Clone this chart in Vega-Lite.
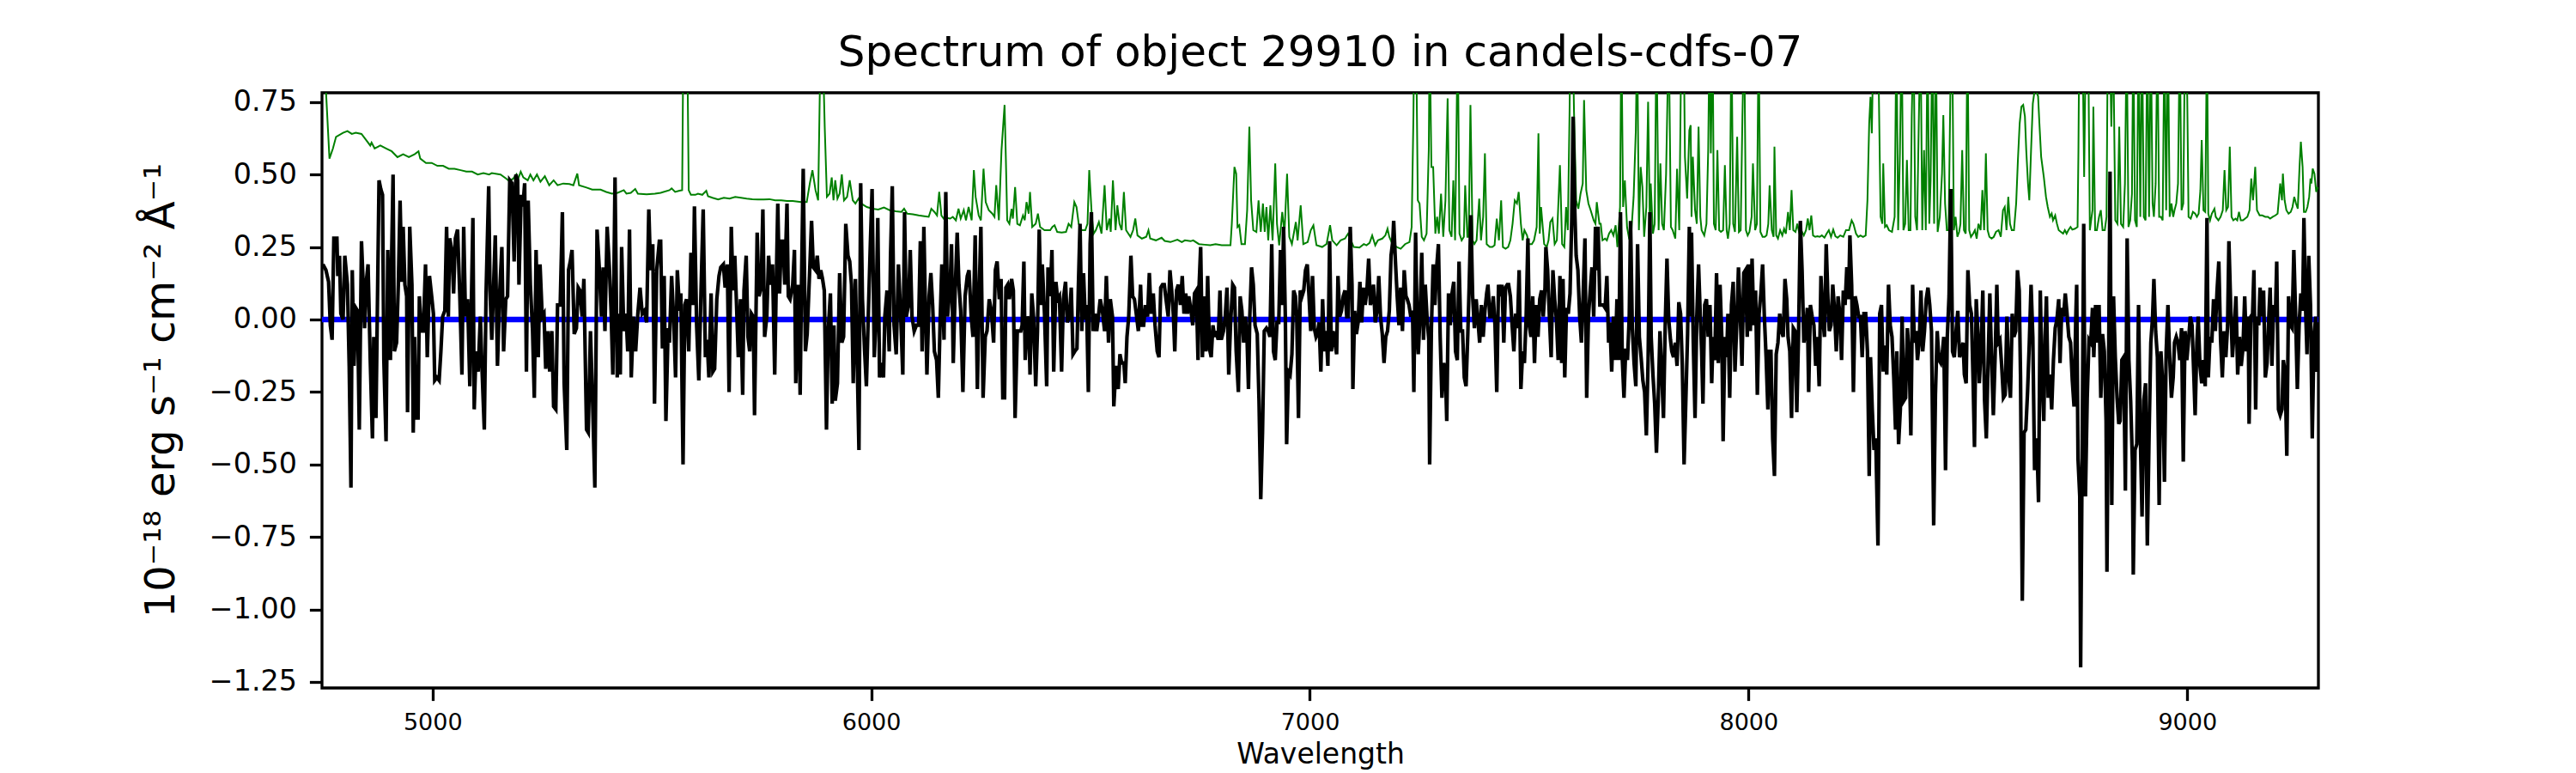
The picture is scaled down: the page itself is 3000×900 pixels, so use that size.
{
  "$schema": "https://vega.github.io/schema/vega-lite/v6.json",
  "autosize": "none",
  "width": 2325,
  "height": 693,
  "padding": {"left": 375, "top": 108, "right": 300, "bottom": 99},
  "background": "white",
  "title": {
    "text": "Spectrum of object 29910 in candels-cdfs-07",
    "font": "DejaVu Sans",
    "fontSize": 50,
    "fontWeight": "normal",
    "color": "black",
    "anchor": "middle",
    "baseline": "alphabetic",
    "offset": 25,
    "dy": 50
  },
  "datasets": {
    "zero": [{"w": 4748, "f": 0}, {"w": 9299, "f": 0}],
    "spec": [
      {"w":4750,"f":0.19},{"w":4757,"f":0.17},{"w":4763,"f":0.13},{"w":4767,"f":-0.02},{"w":4771,"f":-0.07},{"w":4775,"f":0.28},{"w":4782,"f":0.28},{"w":4784,"f":0.15},{"w":4788,"f":0.22},{"w":4791,"f":0.02},
      {"w":4796,"f":0.00},{"w":4800,"f":0.22},{"w":4806,"f":0.12},{"w":4810,"f":-0.16},{"w":4814,"f":-0.58},{"w":4817,"f":0.17},{"w":4821,"f":-0.16},{"w":4825,"f":0.04},{"w":4829,"f":0.03},{"w":4833,"f":-0.38},
      {"w":4838,"f":0.27},{"w":4842,"f":0.12},{"w":4845,"f":-0.03},{"w":4849,"f":0.13},{"w":4853,"f":0.19},{"w":4858,"f":-0.14},{"w":4863,"f":-0.41},{"w":4866,"f":-0.06},{"w":4871,"f":-0.34},{"w":4874,"f":0.01},
      {"w":4878,"f":0.48},{"w":4882,"f":0.45},{"w":4886,"f":0.43},{"w":4889,"f":-0.14},{"w":4894,"f":-0.42},{"w":4898,"f":0.24},{"w":4904,"f":-0.14},{"w":4907,"f":0.24},{"w":4910,"f":0.50},{"w":4913,"f":-0.11},
      {"w":4918,"f":-0.08},{"w":4922,"f":0.12},{"w":4926,"f":0.41},{"w":4930,"f":0.13},{"w":4933,"f":0.32},{"w":4937,"f":0.12},{"w":4941,"f":0.08},{"w":4943,"f":-0.32},{"w":4948,"f":0.32},{"w":4953,"f":0.12},
      {"w":4956,"f":-0.39},{"w":4959,"f":-0.06},{"w":4962,"f":-0.34},{"w":4967,"f":-0.34},{"w":4970,"f":0.08},{"w":4974,"f":-0.04},{"w":4979,"f":-0.04},{"w":4984,"f":0.19},{"w":4988,"f":-0.13},{"w":4993,"f":0.15},
      {"w":4998,"f":0.08},{"w":5002,"f":0.02},{"w":5005,"f":-0.21},{"w":5010,"f":-0.20},{"w":5015,"f":-0.21},{"w":5019,"f":-0.11},{"w":5023,"f":0.01},{"w":5028,"f":0.03},{"w":5032,"f":0.32},{"w":5036,"f":0.01},
      {"w":5039,"f":0.28},{"w":5044,"f":0.24},{"w":5048,"f":0.09},{"w":5052,"f":0.28},{"w":5057,"f":0.31},{"w":5062,"f":0.09},{"w":5067,"f":-0.19},{"w":5071,"f":0.32},{"w":5075,"f":0.01},{"w":5080,"f":0.07},
      {"w":5085,"f":-0.23},{"w":5088,"f":0.01},{"w":5092,"f":0.35},{"w":5095,"f":-0.31},{"w":5099,"f":-0.11},{"w":5104,"f":-0.18},{"w":5109,"f":0.01},{"w":5113,"f":-0.18},{"w":5118,"f":-0.38},{"w":5122,"f":0.09},
      {"w":5128,"f":0.46},{"w":5131,"f":0.10},{"w":5135,"f":-0.07},{"w":5139,"f":0.11},{"w":5143,"f":0.29},{"w":5148,"f":-0.16},{"w":5153,"f":0.09},{"w":5158,"f":0.25},{"w":5162,"f":-0.11},{"w":5167,"f":0.07},
      {"w":5171,"f":0.08},{"w":5176,"f":0.48},{"w":5181,"f":0.47},{"w":5186,"f":0.20},{"w":5190,"f":0.50},{"w":5194,"f":0.48},{"w":5197,"f":0.12},{"w":5202,"f":0.43},{"w":5206,"f":0.39},{"w":5210,"f":0.47},
      {"w":5214,"f":-0.18},{"w":5218,"f":0.41},{"w":5223,"f":0.12},{"w":5228,"f":-0.04},{"w":5232,"f":-0.27},{"w":5236,"f":0.24},{"w":5241,"f":-0.13},{"w":5245,"f":0.19},{"w":5250,"f":0.01},{"w":5254,"f":0.02},
      {"w":5258,"f":-0.17},{"w":5263,"f":-0.04},{"w":5267,"f":-0.18},{"w":5272,"f":-0.04},{"w":5276,"f":-0.30},{"w":5281,"f":-0.31},{"w":5285,"f":0.05},{"w":5291,"f":0.05},{"w":5296,"f":0.37},{"w":5300,"f":-0.22},
      {"w":5306,"f":-0.45},{"w":5310,"f":0.17},{"w":5314,"f":0.20},{"w":5318,"f":0.24},{"w":5323,"f":-0.05},{"w":5328,"f":-0.03},{"w":5332,"f":0.11},{"w":5336,"f":0.10},{"w":5341,"f":0.01},{"w":5345,"f":0.14},
      {"w":5351,"f":-0.38},{"w":5355,"f":-0.39},{"w":5360,"f":-0.04},{"w":5365,"f":-0.29},{"w":5370,"f":-0.58},{"w":5375,"f":0.31},{"w":5380,"f":0.18},{"w":5385,"f":0.01},{"w":5389,"f":0.18},{"w":5393,"f":-0.04},
      {"w":5398,"f":0.32},{"w":5403,"f":0.18},{"w":5407,"f":0.03},{"w":5411,"f":-0.19},{"w":5416,"f":0.49},{"w":5421,"f":-0.20},{"w":5424,"f":0.02},{"w":5428,"f":-0.19},{"w":5431,"f":0.25},{"w":5436,"f":-0.04},
      {"w":5441,"f":0.02},{"w":5445,"f":-0.11},{"w":5449,"f":0.31},{"w":5453,"f":-0.20},{"w":5458,"f":0.01},{"w":5463,"f":-0.11},{"w":5468,"f":0.02},{"w":5473,"f":0.11},{"w":5478,"f":0.02},{"w":5483,"f":0.03},
      {"w":5488,"f":-0.01},{"w":5493,"f":0.38},{"w":5497,"f":0.17},{"w":5502,"f":0.26},{"w":5506,"f":-0.29},{"w":5511,"f":0.17},{"w":5517,"f":0.27},
      {"w":5520,"f":0.27},{"w":5524,"f":-0.10},{"w":5528,"f":0.15},{"w":5532,"f":-0.35},{"w":5537,"f":-0.03},{"w":5540,"f":-0.08},{"w":5545,"f":0.15},{"w":5550,"f":-0.01},{"w":5554,"f":-0.20},{"w":5558,"f":0.17},
      {"w":5563,"f":0.03},{"w":5566,"f":0.09},{"w":5571,"f":-0.50},{"w":5575,"f":0.05},{"w":5579,"f":0.07},{"w":5584,"f":-0.11},{"w":5589,"f":0.23},{"w":5594,"f":0.05},{"w":5597,"f":0.39},{"w":5602,"f":-0.02},
      {"w":5607,"f":-0.21},{"w":5612,"f":0.10},{"w":5617,"f":0.38},{"w":5622,"f":-0.13},{"w":5626,"f":-0.07},{"w":5630,"f":-0.20},{"w":5635,"f":0.09},{"w":5639,"f":-0.18},{"w":5643,"f":-0.17},{"w":5648,"f":0.07},
      {"w":5653,"f":0.15},{"w":5657,"f":0.18},{"w":5663,"f":0.19},{"w":5667,"f":0.11},{"w":5672,"f":0.19},{"w":5676,"f":-0.25},{"w":5681,"f":0.32},{"w":5685,"f":0.10},{"w":5689,"f":0.22},{"w":5693,"f":0.05},
      {"w":5697,"f":-0.13},{"w":5702,"f":0.07},{"w":5707,"f":-0.26},{"w":5710,"f":0.10},{"w":5715,"f":0.22},{"w":5719,"f":-0.06},{"w":5723,"f":-0.11},{"w":5727,"f":0.02},{"w":5731,"f":0.01},{"w":5734,"f":-0.33},
      {"w":5740,"f":0.30},{"w":5744,"f":0.08},{"w":5749,"f":0.11},{"w":5753,"f":0.38},{"w":5757,"f":-0.06},{"w":5762,"f":0.01},{"w":5766,"f":0.22},{"w":5770,"f":0.12},{"w":5775,"f":0.19},{"w":5780,"f":-0.19},
      {"w":5783,"f":0.08},{"w":5787,"f":0.40},{"w":5791,"f":0.09},{"w":5795,"f":0.27},{"w":5799,"f":0.27},{"w":5803,"f":0.12},{"w":5808,"f":0.40},{"w":5811,"f":0.08},{"w":5815,"f":0.07},{"w":5821,"f":0.12},
      {"w":5825,"f":0.24},{"w":5828,"f":-0.22},{"w":5834,"f":0.12},{"w":5838,"f":-0.26},{"w":5841,"f":0.12},{"w":5845,"f":0.52},{"w":5850,"f":-0.11},{"w":5854,"f":-0.05},{"w":5860,"f":0.18},{"w":5864,"f":0.34},
      {"w":5868,"f":0.18},{"w":5873,"f":0.17},{"w":5877,"f":0.22},{"w":5881,"f":0.14},{"w":5885,"f":0.17},{"w":5889,"f":0.14},{"w":5893,"f":0.10},{"w":5898,"f":-0.38},{"w":5902,"f":-0.04},{"w":5907,"f":0.09},
      {"w":5911,"f":-0.29},{"w":5915,"f":-0.02},{"w":5918,"f":-0.28},{"w":5923,"f":-0.22},{"w":5928,"f":0.16},{"w":5933,"f":-0.08},{"w":5937,"f":-0.06},{"w":5942,"f":0.33},{"w":5947,"f":0.22},{"w":5951,"f":0.20},
      {"w":5955,"f":0.12},{"w":5959,"f":-0.22},{"w":5964,"f":0.14},{"w":5968,"f":-0.14},{"w":5972,"f":-0.45},{"w":5976,"f":0.47},{"w":5980,"f":0.07},{"w":5985,"f":-0.11},{"w":5989,"f":-0.23},{"w":5994,"f":0.05},
      {"w":5998,"f":0.26},{"w":6002,"f":0.45},{"w":6007,"f":-0.13},{"w":6011,"f":0.01},{"w":6015,"f":0.35},{"w":6019,"f":-0.20},{"w":6023,"f":-0.15},{"w":6028,"f":-0.20},{"w":6031,"f":0.01},{"w":6036,"f":0.10},
      {"w":6041,"f":-0.11},{"w":6044,"f":0.22},{"w":6048,"f":0.46},{"w":6052,"f":-0.02},{"w":6057,"f":-0.12},{"w":6062,"f":0.19},{"w":6067,"f":0.02},{"w":6072,"f":-0.19},{"w":6076,"f":0.37},{"w":6080,"f":0.01},
      {"w":6085,"f":0.05},{"w":6089,"f":0.24},{"w":6093,"f":0.01},{"w":6098,"f":-0.04},{"w":6103,"f":-0.02},{"w":6108,"f":-0.02},{"w":6112,"f":0.27},{"w":6116,"f":-0.11},{"w":6120,"f":0.32},{"w":6123,"f":0.08},
      {"w":6127,"f":-0.19},{"w":6132,"f":0.08},{"w":6136,"f":0.16},{"w":6140,"f":0.05},{"w":6144,"f":-0.11},{"w":6149,"f":-0.14},{"w":6153,"f":-0.27},{"w":6157,"f":-0.01},{"w":6161,"f":0.19},{"w":6166,"f":-0.07},
      {"w":6170,"f":0.44},{"w":6174,"f":0.01},{"w":6180,"f":0.12},{"w":6183,"f":0.26},{"w":6187,"f":-0.15},{"w":6191,"f":0.08},{"w":6196,"f":0.30},{"w":6200,"f":0.12},{"w":6204,"f":0.03},{"w":6209,"f":-0.25},
      {"w":6214,"f":0.08},{"w":6219,"f":0.15},{"w":6223,"f":0.17},{"w":6228,"f":0.01},{"w":6232,"f":-0.06},{"w":6237,"f":0.29},{"w":6242,"f":-0.24},{"w":6246,"f":0.08},{"w":6250,"f":0.32},{"w":6255,"f":-0.27},
      {"w":6260,"f":-0.06},{"w":6264,"f":-0.04},{"w":6269,"f":0.07},{"w":6274,"f":0.03},{"w":6279,"f":-0.08},{"w":6283,"f":0.17},{"w":6287,"f":0.20},{"w":6292,"f":0.07},{"w":6296,"f":0.14},{"w":6300,"f":-0.27},
      {"w":6304,"f":-0.27},{"w":6307,"f":0.11},{"w":6311,"f":0.12},{"w":6315,"f":0.07},{"w":6320,"f":0.14},{"w":6324,"f":0.10},{"w":6328,"f":-0.34},{"w":6333,"f":-0.04},{"w":6337,"f":-0.04},{"w":6341,"f":-0.04},
      {"w":6344,"f":-0.02},{"w":6348,"f":0.20},{"w":6351,"f":-0.14},{"w":6356,"f":0.01},{"w":6359,"f":0.00},{"w":6362,"f":-0.19},{"w":6366,"f":0.09},{"w":6370,"f":0.01},{"w":6375,"f":-0.23},{"w":6379,"f":-0.04},
      {"w":6383,"f":0.31},{"w":6387,"f":0.05},{"w":6390,"f":0.19},{"w":6395,"f":0.02},{"w":6400,"f":-0.23},{"w":6403,"f":0.18},{"w":6408,"f":0.08},{"w":6412,"f":0.24},{"w":6416,"f":-0.18},{"w":6421,"f":0.13},
      {"w":6425,"f":0.07},{"w":6429,"f":0.08},{"w":6434,"f":-0.18},{"w":6438,"f":0.07},{"w":6443,"f":0.13},{"w":6447,"f":-0.01},{"w":6452,"f":0.01},{"w":6456,"f":0.11},{"w":6460,"f":-0.12},{"w":6464,"f":-0.11},
      {"w":6469,"f":-0.10},{"w":6472,"f":0.10},{"w":6476,"f":0.33},{"w":6480,"f":-0.04},{"w":6484,"f":0.16},{"w":6488,"f":0.00},{"w":6491,"f":0.05},{"w":6495,"f":-0.25},{"w":6499,"f":0.26},{"w":6502,"f":0.37},
      {"w":6506,"f":-0.04},{"w":6510,"f":0.02},{"w":6514,"f":-0.04},{"w":6518,"f":0.01},{"w":6522,"f":0.07},{"w":6527,"f":0.03},{"w":6532,"f":-0.04},{"w":6536,"f":0.15},{"w":6541,"f":-0.08},{"w":6545,"f":0.07},
      {"w":6550,"f":0.01},{"w":6553,"f":-0.30},{"w":6558,"f":-0.16},{"w":6563,"f":-0.24},{"w":6567,"f":-0.12},{"w":6571,"f":-0.15},{"w":6576,"f":-0.15},{"w":6579,"f":-0.22},{"w":6583,"f":-0.06},{"w":6587,"f":0.01},
      {"w":6592,"f":0.22},{"w":6596,"f":0.08},{"w":6600,"f":0.07},{"w":6605,"f":0.01},{"w":6609,"f":-0.04},{"w":6614,"f":0.12},{"w":6617,"f":-0.02},{"w":6621,"f":-0.02},{"w":6625,"f":0.05},{"w":6630,"f":0.01},
      {"w":6634,"f":0.16},{"w":6638,"f":0.02},{"w":6643,"f":0.09},{"w":6647,"f":-0.02},{"w":6652,"f":-0.11},{"w":6656,"f":-0.13},{"w":6660,"f":0.11},{"w":6664,"f":0.12},{"w":6668,"f":0.12},{"w":6672,"f":0.07},
      {"w":6677,"f":0.01},{"w":6681,"f":0.17},{"w":6685,"f":0.10},{"w":6689,"f":0.01},{"w":6692,"f":-0.11},{"w":6696,"f":0.10},{"w":6700,"f":0.12},{"w":6705,"f":0.05},{"w":6709,"f":0.15},{"w":6713,"f":0.02},
      {"w":6717,"f":0.09},{"w":6721,"f":0.02},{"w":6724,"f":0.08},{"w":6729,"f":0.03},{"w":6733,"f":-0.02},{"w":6737,"f":0.09},{"w":6741,"f":0.10},{"w":6745,"f":-0.14},{"w":6747,"f":0.10},{"w":6751,"f":0.25},
      {"w":6755,"f":-0.13},{"w":6759,"f":0.08},{"w":6763,"f":-0.11},{"w":6767,"f":0.15},{"w":6771,"f":-0.10},{"w":6775,"f":-0.13},{"w":6779,"f":-0.02},{"w":6783,"f":-0.06},{"w":6786,"f":-0.04},{"w":6791,"f":-0.07},
      {"w":6795,"f":0.10},{"w":6798,"f":-0.07},{"w":6803,"f":-0.04},{"w":6807,"f":0.01},{"w":6811,"f":0.11},{"w":6815,"f":-0.19},{"w":6819,"f":-0.02},{"w":6824,"f":0.12},{"w":6828,"f":0.11},{"w":6832,"f":-0.11},
      {"w":6837,"f":-0.25},{"w":6841,"f":0.08},{"w":6845,"f":0.03},{"w":6849,"f":-0.08},{"w":6853,"f":0.01},{"w":6857,"f":-0.08},{"w":6860,"f":-0.24},{"w":6863,"f":0.01},{"w":6867,"f":0.18},{"w":6871,"f":0.12},
      {"w":6875,"f":-0.02},{"w":6880,"f":-0.05},{"w":6884,"f":-0.28},{"w":6888,"f":-0.62},{"w":6892,"f":-0.39},{"w":6896,"f":-0.04},{"w":6901,"f":-0.03},{"w":6905,"f":-0.04},{"w":6909,"f":-0.06},{"w":6913,"f":0.26},
      {"w":6917,"f":-0.11},{"w":6921,"f":-0.14},{"w":6925,"f":-0.01},{"w":6929,"f":-0.01},{"w":6933,"f":0.24},{"w":6937,"f":0.05},{"w":6940,"f":0.32},{"w":6944,"f":0.01},{"w":6947,"f":-0.43},{"w":6951,"f":-0.18},
      {"w":6955,"f":-0.19},{"w":6959,"f":-0.12},{"w":6963,"f":0.10},{"w":6967,"f":0.08},{"w":6970,"f":0.01},{"w":6974,"f":-0.34},{"w":6978,"f":0.10},{"w":6982,"f":0.08},{"w":6986,"f":0.10},{"w":6990,"f":0.17},
      {"w":6994,"f":0.19},{"w":6998,"f":0.08},{"w":7002,"f":-0.04},{"w":7006,"f":0.15},{"w":7010,"f":-0.03},{"w":7014,"f":-0.06},{"w":7017,"f":-0.05},{"w":7021,"f":-0.01},{"w":7025,"f":-0.18},{"w":7029,"f":0.07},
      {"w":7033,"f":-0.11},{"w":7037,"f":-0.04},{"w":7041,"f":-0.16},{"w":7045,"f":0.27},{"w":7049,"f":-0.11},{"w":7053,"f":-0.04},{"w":7057,"f":-0.08},{"w":7061,"f":-0.12},{"w":7064,"f":0.15},{"w":7068,"f":0.01},
      {"w":7072,"f":0.03},{"w":7076,"f":0.08},{"w":7080,"f":0.10},{"w":7084,"f":0.01},
      {"w":7087,"f":0.01},{"w":7092,"f":0.32},{"w":7096,"f":0.12},{"w":7098,"f":-0.24},{"w":7102,"f":0.03},{"w":7106,"f":-0.05},{"w":7110,"f":-0.01},{"w":7114,"f":0.13},{"w":7118,"f":-0.01},{"w":7122,"f":0.11},
      {"w":7126,"f":0.05},{"w":7130,"f":0.10},{"w":7134,"f":0.21},{"w":7138,"f":0.05},{"w":7142,"f":0.08},{"w":7145,"f":0.12},{"w":7149,"f":-0.01},{"w":7153,"f":0.03},{"w":7157,"f":0.15},{"w":7161,"f":0.01},
      {"w":7165,"f":-0.05},{"w":7169,"f":-0.15},{"w":7173,"f":-0.06},{"w":7177,"f":-0.04},{"w":7181,"f":0.03},{"w":7185,"f":0.22},{"w":7189,"f":0.27},{"w":7191,"f":0.34},{"w":7195,"f":0.20},{"w":7199,"f":0.08},
      {"w":7203,"f":-0.02},{"w":7207,"f":0.11},{"w":7211,"f":-0.04},{"w":7215,"f":0.17},{"w":7219,"f":0.08},{"w":7222,"f":0.07},{"w":7226,"f":0.05},{"w":7230,"f":0.01},{"w":7234,"f":0.03},{"w":7237,"f":-0.25},
      {"w":7241,"f":0.30},{"w":7245,"f":-0.06},{"w":7247,"f":-0.12},{"w":7251,"f":0.01},{"w":7255,"f":0.23},{"w":7259,"f":-0.07},{"w":7263,"f":0.12},{"w":7267,"f":0.01},{"w":7271,"f":-0.07},{"w":7273,"f":-0.50},
      {"w":7277,"f":-0.03},{"w":7281,"f":0.19},{"w":7285,"f":0.05},{"w":7289,"f":0.18},{"w":7293,"f":0.26},{"w":7297,"f":-0.06},{"w":7301,"f":-0.27},{"w":7305,"f":-0.15},{"w":7309,"f":-0.18},{"w":7312,"f":-0.35},
      {"w":7316,"f":0.09},{"w":7320,"f":-0.02},{"w":7324,"f":0.09},{"w":7328,"f":0.13},{"w":7332,"f":-0.11},{"w":7336,"f":-0.14},{"w":7340,"f":0.20},{"w":7344,"f":-0.04},{"w":7348,"f":-0.04},{"w":7352,"f":-0.20},
      {"w":7356,"f":-0.23},{"w":7360,"f":-0.05},{"w":7363,"f":0.11},{"w":7367,"f":0.36},{"w":7371,"f":0.08},{"w":7375,"f":-0.03},{"w":7379,"f":0.07},{"w":7383,"f":0.00},{"w":7387,"f":-0.08},{"w":7391,"f":0.05},
      {"w":7395,"f":-0.06},{"w":7399,"f":0.03},{"w":7403,"f":0.09},{"w":7406,"f":0.12},{"w":7410,"f":0.01},{"w":7414,"f":0.01},{"w":7418,"f":0.08},{"w":7422,"f":-0.02},{"w":7426,"f":-0.25},{"w":7430,"f":0.12},
      {"w":7434,"f":0.08},{"w":7438,"f":0.12},{"w":7442,"f":-0.08},{"w":7446,"f":0.11},{"w":7450,"f":0.12},{"w":7453,"f":0.12},{"w":7457,"f":0.08},{"w":7461,"f":-0.02},{"w":7465,"f":-0.11},{"w":7469,"f":0.02},
      {"w":7473,"f":-0.03},{"w":7477,"f":0.17},{"w":7481,"f":-0.24},{"w":7485,"f":-0.11},{"w":7489,"f":-0.15},{"w":7493,"f":0.01},{"w":7497,"f":0.28},{"w":7500,"f":-0.02},{"w":7504,"f":-0.06},{"w":7508,"f":0.08},
      {"w":7512,"f":-0.15},{"w":7516,"f":0.05},{"w":7520,"f":-0.06},{"w":7524,"f":0.07},{"w":7528,"f":0.10},{"w":7532,"f":0.01},{"w":7536,"f":0.11},{"w":7538,"f":0.25},{"w":7542,"f":0.17},{"w":7546,"f":0.01},
      {"w":7550,"f":-0.13},{"w":7554,"f":0.17},{"w":7558,"f":0.07},{"w":7562,"f":0.00},{"w":7566,"f":-0.14},{"w":7570,"f":0.15},{"w":7574,"f":-0.15},{"w":7577,"f":0.14},{"w":7581,"f":-0.20},{"w":7585,"f":0.04},
      {"w":7589,"f":0.02},{"w":7593,"f":0.09},{"w":7597,"f":0.35},{"w":7600,"f":0.70},{"w":7604,"f":0.37},{"w":7607,"f":0.22},{"w":7611,"f":0.17},{"w":7615,"f":0.01},{"w":7619,"f":-0.08},{"w":7623,"f":0.09},
      {"w":7627,"f":0.28},{"w":7631,"f":-0.27},{"w":7635,"f":0.01},{"w":7639,"f":0.10},{"w":7643,"f":0.18},{"w":7647,"f":0.01},{"w":7651,"f":0.32},{"w":7653,"f":0.17},{"w":7657,"f":0.32},{"w":7661,"f":0.05},
      {"w":7665,"f":0.05},{"w":7669,"f":0.05},{"w":7673,"f":0.04},{"w":7677,"f":0.15},{"w":7681,"f":-0.08},{"w":7684,"f":-0.01},{"w":7688,"f":-0.18},{"w":7692,"f":0.01},{"w":7696,"f":-0.14},{"w":7700,"f":0.07},
      {"w":7704,"f":-0.14},{"w":7708,"f":0.37},{"w":7712,"f":-0.13},{"w":7716,"f":-0.27},{"w":7720,"f":-0.10},{"w":7724,"f":-0.14},{"w":7728,"f":0.01},{"w":7731,"f":0.34},{"w":7735,"f":-0.03},{"w":7739,"f":-0.15},
      {"w":7743,"f":-0.23},{"w":7747,"f":0.26},{"w":7751,"f":-0.06},{"w":7755,"f":-0.13},{"w":7759,"f":-0.21},{"w":7763,"f":-0.25},{"w":7767,"f":-0.40},{"w":7771,"f":-0.14},{"w":7775,"f":0.37},{"w":7778,"f":-0.06},
      {"w":7782,"f":-0.19},{"w":7786,"f":-0.29},{"w":7790,"f":-0.46},{"w":7794,"f":-0.28},{"w":7798,"f":-0.04},{"w":7802,"f":-0.18},{"w":7806,"f":-0.34},{"w":7810,"f":-0.02},{"w":7814,"f":0.21},{"w":7818,"f":0.00},
      {"w":7822,"f":-0.07},{"w":7825,"f":-0.11},{"w":7829,"f":-0.13},{"w":7833,"f":-0.08},{"w":7837,"f":-0.16},{"w":7841,"f":0.06},{"w":7845,"f":0.02},{"w":7849,"f":-0.16},{"w":7853,"f":-0.50},{"w":7857,"f":-0.28},
      {"w":7861,"f":-0.05},{"w":7865,"f":0.32},{"w":7869,"f":0.01},
      {"w":7870,"f":0.30},{"w":7874,"f":-0.08},{"w":7878,"f":-0.34},{"w":7882,"f":0.01},{"w":7886,"f":0.19},{"w":7890,"f":0.01},{"w":7893,"f":-0.11},{"w":7896,"f":-0.29},{"w":7900,"f":0.05},{"w":7904,"f":0.07},
      {"w":7908,"f":-0.06},{"w":7912,"f":0.05},{"w":7916,"f":-0.22},{"w":7919,"f":-0.06},{"w":7923,"f":-0.14},{"w":7927,"f":0.16},{"w":7931,"f":-0.15},{"w":7935,"f":0.12},{"w":7939,"f":-0.06},{"w":7942,"f":-0.42},
      {"w":7946,"f":-0.06},{"w":7950,"f":-0.13},{"w":7953,"f":0.02},{"w":7957,"f":-0.27},{"w":7961,"f":0.05},{"w":7965,"f":0.13},{"w":7969,"f":-0.18},{"w":7973,"f":-0.02},{"w":7977,"f":0.18},{"w":7981,"f":0.02},
      {"w":7985,"f":-0.16},{"w":7989,"f":0.16},{"w":7993,"f":0.17},{"w":7997,"f":-0.06},{"w":8000,"f":0.19},{"w":8004,"f":-0.04},{"w":8008,"f":0.21},{"w":8012,"f":-0.02},{"w":8016,"f":0.10},{"w":8020,"f":-0.26},
      {"w":8024,"f":0.02},{"w":8028,"f":0.09},{"w":8032,"f":0.19},{"w":8036,"f":0.01},{"w":8040,"f":-0.13},{"w":8044,"f":-0.31},{"w":8047,"f":-0.11},{"w":8051,"f":-0.11},{"w":8055,"f":-0.41},{"w":8059,"f":-0.54},
      {"w":8063,"f":-0.12},{"w":8067,"f":-0.08},{"w":8071,"f":0.02},{"w":8075,"f":-0.04},{"w":8079,"f":-0.06},{"w":8083,"f":0.14},{"w":8087,"f":0.07},{"w":8090,"f":-0.06},{"w":8094,"f":-0.11},{"w":8098,"f":-0.34},
      {"w":8102,"f":-0.03},{"w":8106,"f":-0.04},{"w":8110,"f":-0.32},{"w":8114,"f":-0.05},{"w":8118,"f":0.34},{"w":8122,"f":0.17},{"w":8126,"f":-0.08},{"w":8130,"f":-0.04},{"w":8134,"f":0.04},{"w":8137,"f":-0.25},
      {"w":8141,"f":0.05},{"w":8145,"f":0.01},{"w":8149,"f":-0.02},{"w":8153,"f":-0.16},{"w":8157,"f":-0.06},{"w":8161,"f":-0.23},{"w":8165,"f":0.15},{"w":8169,"f":0.01},{"w":8173,"f":-0.06},{"w":8177,"f":0.26},
      {"w":8181,"f":0.07},{"w":8184,"f":-0.04},{"w":8188,"f":-0.02},{"w":8192,"f":0.12},{"w":8196,"f":0.03},{"w":8200,"f":-0.11},{"w":8204,"f":0.08},{"w":8208,"f":0.02},{"w":8212,"f":-0.14},{"w":8216,"f":0.10},
      {"w":8220,"f":0.05},{"w":8224,"f":0.18},{"w":8228,"f":0.07},{"w":8231,"f":0.29},{"w":8235,"f":0.12},{"w":8239,"f":-0.25},{"w":8243,"f":0.08},{"w":8247,"f":0.05},{"w":8251,"f":0.01},{"w":8255,"f":0.01},
      {"w":8259,"f":-0.13},{"w":8263,"f":0.02},{"w":8267,"f":0.02},{"w":8271,"f":-0.11},{"w":8275,"f":-0.54},{"w":8278,"f":-0.13},{"w":8282,"f":-0.31},{"w":8286,"f":-0.45},{"w":8290,"f":-0.41},{"w":8295,"f":-0.78},
      {"w":8299,"f":0.02},{"w":8303,"f":0.05},{"w":8307,"f":-0.18},{"w":8311,"f":-0.09},{"w":8315,"f":-0.19},{"w":8319,"f":0.12},{"w":8323,"f":-0.02},{"w":8327,"f":-0.06},{"w":8331,"f":-0.20},{"w":8335,"f":-0.38},
      {"w":8338,"f":-0.11},{"w":8342,"f":-0.43},{"w":8346,"f":-0.31},{"w":8350,"f":0.01},{"w":8354,"f":-0.28},{"w":8358,"f":-0.27},{"w":8362,"f":-0.03},{"w":8366,"f":-0.12},{"w":8370,"f":-0.40},{"w":8374,"f":0.12},
      {"w":8378,"f":-0.08},{"w":8382,"f":-0.04},{"w":8385,"f":-0.14},{"w":8389,"f":-0.08},{"w":8393,"f":0.10},{"w":8397,"f":-0.11},{"w":8401,"f":-0.04},{"w":8405,"f":0.07},{"w":8409,"f":0.11},{"w":8413,"f":0.05},
      {"w":8417,"f":-0.04},{"w":8422,"f":-0.71},{"w":8426,"f":-0.26},{"w":8430,"f":-0.04},{"w":8434,"f":-0.14},{"w":8438,"f":-0.15},{"w":8442,"f":-0.11},{"w":8445,"f":-0.06},{"w":8449,"f":-0.52},{"w":8453,"f":-0.06},
      {"w":8457,"f":0.08},{"w":8461,"f":0.45},{"w":8465,"f":-0.11},{"w":8469,"f":-0.13},{"w":8473,"f":-0.04},{"w":8477,"f":0.03},{"w":8481,"f":-0.13},{"w":8485,"f":-0.11},{"w":8489,"f":-0.08},{"w":8492,"f":-0.19},
      {"w":8496,"f":-0.22},{"w":8500,"f":0.17},{"w":8504,"f":0.05},{"w":8508,"f":0.02},{"w":8512,"f":-0.22},{"w":8515,"f":-0.44},{"w":8519,"f":0.07},{"w":8523,"f":-0.06},{"w":8526,"f":-0.22},{"w":8530,"f":-0.10},
      {"w":8534,"f":0.10},{"w":8538,"f":-0.28},{"w":8542,"f":-0.41},{"w":8546,"f":-0.15},{"w":8550,"f":0.09},{"w":8554,"f":-0.14},{"w":8558,"f":-0.33},{"w":8562,"f":-0.13},{"w":8566,"f":0.12},{"w":8569,"f":-0.08},
      {"w":8573,"f":-0.07},{"w":8577,"f":-0.16},{"w":8581,"f":-0.27},{"w":8585,"f":-0.26},{"w":8589,"f":0.01},{"w":8593,"f":-0.20},{"w":8597,"f":-0.27},{"w":8601,"f":0.02},{"w":8605,"f":-0.06},{"w":8609,"f":-0.04},
      {"w":8613,"f":0.17},{"w":8617,"f":0.10},{"w":8620,"f":-0.20},{"w":8624,"f":-0.97},{"w":8628,"f":-0.39},{"w":8632,"f":-0.38},{"w":8636,"f":-0.25},{"w":8640,"f":-0.08},{"w":8644,"f":0.12},{"w":8648,"f":-0.06},
      {"w":8652,"f":-0.52},
      {"w":8653,"f":-0.45},{"w":8657,"f":-0.41},{"w":8661,"f":-0.63},{"w":8665,"f":0.10},{"w":8669,"f":-0.20},{"w":8673,"f":-0.35},{"w":8676,"f":-0.06},{"w":8679,"f":0.08},{"w":8683,"f":-0.27},{"w":8687,"f":-0.19},
      {"w":8691,"f":-0.31},{"w":8695,"f":-0.14},{"w":8699,"f":-0.03},{"w":8703,"f":0.00},{"w":8707,"f":0.07},{"w":8710,"f":-0.15},{"w":8714,"f":0.04},{"w":8718,"f":0.01},{"w":8722,"f":0.09},{"w":8726,"f":0.02},
      {"w":8730,"f":-0.06},{"w":8734,"f":-0.08},{"w":8738,"f":-0.21},{"w":8742,"f":-0.30},{"w":8746,"f":0.01},{"w":8748,"f":0.12},{"w":8751,"f":-0.48},{"w":8755,"f":-0.61},{"w":8757,"f":-1.20},{"w":8761,"f":-0.34},
      {"w":8764,"f":0.33},{"w":8768,"f":-0.61},{"w":8772,"f":-0.27},{"w":8776,"f":-0.07},{"w":8780,"f":-0.08},{"w":8784,"f":0.04},{"w":8787,"f":-0.13},{"w":8791,"f":0.05},{"w":8795,"f":-0.08},{"w":8799,"f":0.05},
      {"w":8803,"f":-0.27},{"w":8807,"f":-0.05},{"w":8811,"f":-0.11},{"w":8815,"f":-0.35},{"w":8817,"f":-0.87},{"w":8820,"f":-0.30},{"w":8824,"f":0.51},{"w":8828,"f":-0.64},{"w":8832,"f":0.08},{"w":8836,"f":-0.13},
      {"w":8840,"f":-0.27},{"w":8844,"f":-0.36},{"w":8847,"f":-0.35},{"w":8851,"f":-0.14},{"w":8855,"f":-0.13},{"w":8859,"f":-0.59},{"w":8863,"f":0.28},{"w":8867,"f":-0.14},{"w":8871,"f":-0.28},{"w":8875,"f":-0.49},
      {"w":8877,"f":-0.88},{"w":8881,"f":-0.45},{"w":8885,"f":-0.43},{"w":8889,"f":0.05},{"w":8893,"f":-0.40},{"w":8897,"f":-0.68},{"w":8901,"f":-0.28},{"w":8905,"f":-0.22},{"w":8909,"f":-0.78},{"w":8913,"f":-0.40},
      {"w":8917,"f":-0.08},{"w":8921,"f":0.01},{"w":8924,"f":0.14},{"w":8928,"f":-0.04},{"w":8932,"f":-0.13},{"w":8936,"f":-0.64},{"w":8940,"f":-0.11},{"w":8944,"f":-0.22},{"w":8948,"f":-0.56},{"w":8952,"f":-0.11},
      {"w":8956,"f":0.05},{"w":8960,"f":-0.13},{"w":8964,"f":-0.27},{"w":8968,"f":-0.20},{"w":8971,"f":-0.08},{"w":8975,"f":-0.06},{"w":8979,"f":-0.08},{"w":8983,"f":-0.14},{"w":8987,"f":-0.03},{"w":8991,"f":-0.49},
      {"w":8995,"f":-0.04},{"w":8999,"f":-0.14},{"w":9003,"f":-0.07},{"w":9007,"f":0.01},{"w":9011,"f":-0.02},{"w":9015,"f":-0.19},{"w":9018,"f":-0.33},{"w":9022,"f":-0.08},{"w":9025,"f":0.01},{"w":9029,"f":-0.16},
      {"w":9033,"f":-0.22},{"w":9037,"f":-0.14},{"w":9041,"f":-0.23},{"w":9045,"f":0.35},{"w":9048,"f":-0.20},{"w":9052,"f":-0.06},{"w":9056,"f":-0.08},{"w":9060,"f":0.07},{"w":9064,"f":-0.04},{"w":9068,"f":0.10},
      {"w":9072,"f":0.20},{"w":9076,"f":-0.07},{"w":9080,"f":-0.20},{"w":9084,"f":-0.04},{"w":9088,"f":-0.13},{"w":9092,"f":-0.02},{"w":9095,"f":0.27},{"w":9099,"f":0.05},{"w":9103,"f":-0.13},{"w":9107,"f":-0.04},
      {"w":9111,"f":0.08},{"w":9115,"f":-0.19},{"w":9119,"f":-0.06},{"w":9123,"f":-0.16},{"w":9127,"f":-0.10},{"w":9131,"f":0.08},{"w":9135,"f":-0.11},{"w":9139,"f":0.01},{"w":9141,"f":-0.36},{"w":9145,"f":0.01},
      {"w":9149,"f":0.02},{"w":9152,"f":0.17},{"w":9156,"f":-0.31},{"w":9159,"f":0.01},{"w":9163,"f":-0.02},{"w":9166,"f":0.11},{"w":9170,"f":0.01},{"w":9174,"f":0.10},{"w":9178,"f":-0.20},{"w":9182,"f":-0.15},
      {"w":9186,"f":0.01},{"w":9189,"f":0.11},{"w":9193,"f":-0.16},{"w":9197,"f":0.05},{"w":9201,"f":0.01},{"w":9204,"f":0.20},{"w":9208,"f":-0.31},{"w":9212,"f":-0.33},{"w":9216,"f":-0.31},{"w":9219,"f":-0.14},
      {"w":9223,"f":-0.18},{"w":9227,"f":-0.47},{"w":9231,"f":0.08},{"w":9235,"f":-0.02},{"w":9239,"f":-0.03},{"w":9243,"f":0.24},{"w":9247,"f":0.02},{"w":9251,"f":-0.24},{"w":9255,"f":-0.02},{"w":9259,"f":0.09},
      {"w":9263,"f":0.03},{"w":9266,"f":0.35},{"w":9270,"f":0.03},{"w":9273,"f":-0.12},{"w":9277,"f":0.22},{"w":9281,"f":0.05},{"w":9285,"f":-0.41},{"w":9289,"f":-0.06},{"w":9293,"f":0.01},{"w":9295,"f":-0.18},
      {"w":9299,"f":-0.10}
    ],
    "noise": [
      {"w":4747,"f":0.95},{"w":4757,"f":0.79},{"w":4765,"f":0.555},{"w":4773,"f":0.59},{"w":4780,"f":0.63},{"w":4796,"f":0.644},{"w":4806,"f":0.65},{"w":4816,"f":0.64},{"w":4825,"f":0.644},{"w":4838,"f":0.64},
      {"w":4848,"f":0.62},{"w":4858,"f":0.60},{"w":4861,"f":0.61},{"w":4868,"f":0.59},{"w":4881,"f":0.60},{"w":4894,"f":0.59},{"w":4907,"f":0.58},{"w":4920,"f":0.56},{"w":4933,"f":0.57},{"w":4946,"f":0.56},
      {"w":4959,"f":0.57},{"w":4968,"f":0.58},{"w":4972,"f":0.555},{"w":4985,"f":0.54},{"w":4998,"f":0.54},{"w":5011,"f":0.53},{"w":5024,"f":0.53},{"w":5037,"f":0.52},{"w":5050,"f":0.52},{"w":5064,"f":0.515},
      {"w":5077,"f":0.51},{"w":5090,"f":0.51},{"w":5103,"f":0.50},{"w":5116,"f":0.505},{"w":5129,"f":0.50},{"w":5135,"f":0.505},{"w":5155,"f":0.50},{"w":5168,"f":0.486},{"w":5175,"f":0.477},{"w":5184,"f":0.486},
      {"w":5191,"f":0.50},{"w":5194,"f":0.48},{"w":5201,"f":0.51},{"w":5207,"f":0.49},{"w":5217,"f":0.48},{"w":5223,"f":0.50},{"w":5230,"f":0.48},{"w":5238,"f":0.50},{"w":5246,"f":0.475},{"w":5256,"f":0.494},
      {"w":5266,"f":0.463},{"w":5276,"f":0.48},{"w":5285,"f":0.463},{"w":5298,"f":0.469},{"w":5312,"f":0.467},{"w":5321,"f":0.463},{"w":5330,"f":0.503},{"w":5334,"f":0.463},{"w":5351,"f":0.455},{"w":5364,"f":0.448},
      {"w":5383,"f":0.448},{"w":5396,"f":0.44},{"w":5409,"f":0.434},{"w":5422,"f":0.437},{"w":5436,"f":0.446},{"w":5442,"f":0.434},{"w":5452,"f":0.437},{"w":5462,"f":0.45},{"w":5468,"f":0.434},{"w":5488,"f":0.432},
      {"w":5507,"f":0.434},{"w":5520,"f":0.437},{"w":5540,"f":0.446},{"w":5545,"f":0.452},{"w":5553,"f":0.44},{"w":5563,"f":0.444},{"w":5569,"f":0.446},{"w":5573,"f":1.2},{"w":5579,"f":1.2},{"w":5584,"f":0.446},
      {"w":5589,"f":0.43},{"w":5599,"f":0.43},{"w":5605,"f":0.434},{"w":5615,"f":0.43},{"w":5624,"f":0.444},{"w":5628,"f":0.425},{"w":5638,"f":0.42},{"w":5651,"f":0.414},{"w":5664,"f":0.42},{"w":5677,"f":0.417},
      {"w":5690,"f":0.423},{"w":5703,"f":0.42},{"w":5716,"f":0.417},{"w":5729,"f":0.415},{"w":5742,"f":0.414},{"w":5755,"f":0.414},{"w":5768,"f":0.415},{"w":5781,"f":0.411},{"w":5795,"f":0.411},{"w":5808,"f":0.409},
      {"w":5821,"f":0.409},{"w":5840,"f":0.405},{"w":5853,"f":0.405},{"w":5860,"f":0.469},{"w":5866,"f":0.515},{"w":5873,"f":0.446},{"w":5879,"f":0.411},{"w":5886,"f":1.1},{"w":5891,"f":0.85},{"w":5894,"f":0.665},
      {"w":5899,"f":0.423},{"w":5905,"f":0.434},{"w":5910,"f":0.49},{"w":5914,"f":0.411},{"w":5918,"f":0.48},{"w":5923,"f":0.417},{"w":5928,"f":0.434},{"w":5933,"f":0.50},{"w":5938,"f":0.411},{"w":5945,"f":0.423},
      {"w":5951,"f":0.48},{"w":5958,"f":0.411},{"w":5964,"f":0.40},{"w":5971,"f":0.417},{"w":5977,"f":0.40},{"w":5990,"f":0.388},{"w":6003,"f":0.382},{"w":6016,"f":0.379},{"w":6029,"f":0.386},{"w":6042,"f":0.377},
      {"w":6056,"f":0.373},{"w":6069,"f":0.371},{"w":6075,"f":0.382},{"w":6082,"f":0.365},{"w":6095,"f":0.363},{"w":6108,"f":0.359},{"w":6121,"f":0.356},{"w":6131,"f":0.354},{"w":6137,"f":0.382},{"w":6144,"f":0.371},
      {"w":6150,"f":0.359},{"w":6155,"f":0.44},{"w":6160,"f":0.359},{"w":6167,"f":0.344},{"w":6173,"f":0.35},{"w":6180,"f":0.348},{"w":6186,"f":0.354},{"w":6193,"f":0.342},{"w":6199,"f":0.382},{"w":6204,"f":0.348},
      {"w":6211,"f":0.377},{"w":6216,"f":0.342},{"w":6222,"f":0.388},{"w":6229,"f":0.342},{"w":6234,"f":0.515},{"w":6238,"f":0.423},{"w":6245,"f":0.359},{"w":6250,"f":0.342},{"w":6256,"f":0.52},{"w":6261,"f":0.405},
      {"w":6268,"f":0.377},{"w":6276,"f":0.365},{"w":6281,"f":0.354},{"w":6285,"f":0.463},{"w":6291,"f":0.342},{"w":6297,"f":0.584},{"w":6304,"f":0.74},{"w":6307,"f":0.55},{"w":6310,"f":0.342},{"w":6315,"f":0.33},
      {"w":6320,"f":0.382},{"w":6323,"f":0.348},{"w":6328,"f":0.457},{"w":6333,"f":0.33},{"w":6339,"f":0.325},{"w":6346,"f":0.359},{"w":6350,"f":0.342},{"w":6354,"f":0.405},{"w":6359,"f":0.365},{"w":6362,"f":0.44},
      {"w":6367,"f":0.319},{"w":6375,"f":0.33},{"w":6380,"f":0.365},{"w":6385,"f":0.319},{"w":6395,"f":0.308},{"w":6408,"f":0.308},{"w":6413,"f":0.319},{"w":6418,"f":0.325},{"w":6424,"f":0.302},{"w":6434,"f":0.30},
      {"w":6444,"f":0.302},{"w":6450,"f":0.33},{"w":6456,"f":0.319},{"w":6463,"f":0.405},{"w":6468,"f":0.388},{"w":6473,"f":0.33},{"w":6480,"f":0.308},{"w":6488,"f":0.308},{"w":6493,"f":0.33},{"w":6497,"f":0.515},
      {"w":6503,"f":0.354},{"w":6507,"f":0.296},{"w":6512,"f":0.308},{"w":6519,"f":0.336},{"w":6525,"f":0.296},{"w":6532,"f":0.463},{"w":6537,"f":0.308},{"w":6543,"f":0.348},{"w":6546,"f":0.302},{"w":6551,"f":0.48},
      {"w":6557,"f":0.308},{"w":6561,"f":0.394},{"w":6566,"f":0.33},{"w":6571,"f":0.308},{"w":6576,"f":0.44},{"w":6581,"f":0.308},{"w":6591,"f":0.285},{"w":6597,"f":0.308},{"w":6602,"f":0.348},{"w":6607,"f":0.29},
      {"w":6617,"f":0.279},{"w":6627,"f":0.285},{"w":6632,"f":0.308},{"w":6636,"f":0.279},{"w":6649,"f":0.273},{"w":6662,"f":0.282},{"w":6669,"f":0.271},{"w":6682,"f":0.267},{"w":6698,"f":0.275},{"w":6708,"f":0.267},
      {"w":6715,"f":0.273},{"w":6728,"f":0.27},{"w":6734,"f":0.273},{"w":6747,"f":0.26},{"w":6760,"f":0.258},{"w":6773,"f":0.256},{"w":6785,"f":0.26},{"w":6799,"f":0.256},{"w":6819,"f":0.256},{"w":6822,"f":0.33},
      {"w":6828,"f":0.526},{"w":6832,"f":0.503},{"w":6835,"f":0.319},{"w":6839,"f":0.325},{"w":6844,"f":0.26},{"w":6852,"f":0.26},{"w":6857,"f":0.377},{"w":6862,"f":0.665},{"w":6866,"f":0.411},{"w":6871,"f":0.308},
      {"w":6878,"f":0.302},{"w":6883,"f":0.411},{"w":6888,"f":0.302},{"w":6893,"f":0.40},{"w":6897,"f":0.302},{"w":6901,"f":0.388},{"w":6905,"f":0.273},{"w":6910,"f":0.394},{"w":6915,"f":0.273},{"w":6921,"f":0.538},
      {"w":6925,"f":0.33},{"w":6930,"f":0.256},{"w":6937,"f":0.371},{"w":6942,"f":0.296},{"w":6948,"f":0.503},{"w":6953,"f":0.285},{"w":6959,"f":0.26},{"w":6968,"f":0.336},{"w":6972,"f":0.273},{"w":6979,"f":0.394},
      {"w":6985,"f":0.26},{"w":6995,"f":0.267},{"w":7002,"f":0.308},{"w":7008,"f":0.325},{"w":7015,"f":0.256},{"w":7028,"f":0.25},{"w":7038,"f":0.26},{"w":7046,"f":0.325},{"w":7051,"f":0.273},{"w":7061,"f":0.256},
      {"w":7070,"f":0.273},{"w":7080,"f":0.279},{"w":7087,"f":0.296},{"w":7100,"f":0.25},{"w":7113,"f":0.248},{"w":7123,"f":0.26},{"w":7129,"f":0.256},{"w":7136,"f":0.264},{"w":7142,"f":0.29},{"w":7149,"f":0.256},
      {"w":7155,"f":0.273},{"w":7165,"f":0.279},{"w":7172,"f":0.29},{"w":7177,"f":0.313},{"w":7181,"f":0.285},{"w":7188,"f":0.26},{"w":7198,"f":0.25},{"w":7207,"f":0.244},{"w":7217,"f":0.26},{"w":7227,"f":0.267},
      {"w":7232,"f":0.319},{"w":7236,"f":0.70},{"w":7238,"f":1.0},{"w":7242,"f":1.0},{"w":7246,"f":0.411},{"w":7250,"f":0.40},{"w":7255,"f":0.285},{"w":7260,"f":0.273},{"w":7266,"f":0.296},{"w":7271,"f":0.584},
      {"w":7273,"f":1.0},{"w":7277,"f":0.526},{"w":7281,"f":0.526},{"w":7286,"f":0.296},{"w":7290,"f":0.354},{"w":7294,"f":0.296},{"w":7299,"f":0.434},{"w":7304,"f":0.285},{"w":7309,"f":0.411},{"w":7314,"f":0.763},
      {"w":7318,"f":0.308},{"w":7323,"f":0.285},{"w":7327,"f":0.48},{"w":7331,"f":0.273},{"w":7337,"f":1.0},{"w":7341,"f":0.296},{"w":7346,"f":0.273},{"w":7351,"f":0.285},{"w":7354,"f":0.463},{"w":7359,"f":0.285},
      {"w":7362,"f":0.285},{"w":7366,"f":0.74},{"w":7371,"f":0.273},{"w":7375,"f":0.26},{"w":7380,"f":0.273},{"w":7386,"f":0.417},{"w":7390,"f":0.273},{"w":7395,"f":0.354},{"w":7399,"f":0.573},{"w":7403,"f":0.26},
      {"w":7410,"f":0.25},{"w":7416,"f":0.25},{"w":7421,"f":0.256},{"w":7426,"f":0.348},{"w":7431,"f":0.273},{"w":7436,"f":0.411},{"w":7440,"f":0.25},{"w":7446,"f":0.244},{"w":7452,"f":0.25},{"w":7457,"f":0.273},
      {"w":7462,"f":0.33},{"w":7467,"f":0.411},{"w":7472,"f":0.40},{"w":7476,"f":0.44},{"w":7481,"f":0.33},{"w":7485,"f":0.273},{"w":7489,"f":0.308},{"w":7495,"f":0.29},{"w":7499,"f":0.26},{"w":7506,"f":0.26},
      {"w":7511,"f":0.273},{"w":7517,"f":0.319},{"w":7521,"f":0.642},{"w":7524,"f":0.296},{"w":7527,"f":0.388},{"w":7534,"f":0.26},{"w":7540,"f":0.25},{"w":7544,"f":0.273},{"w":7548,"f":0.336},{"w":7553,"f":0.348},
      {"w":7558,"f":0.26},{"w":7563,"f":0.273},{"w":7570,"f":0.532},{"w":7575,"f":0.26},{"w":7580,"f":0.25},{"w":7584,"f":0.388},{"w":7588,"f":0.308},{"w":7592,"f":0.722},{"w":7594,"f":1.0},{"w":7599,"f":1.0},
      {"w":7602,"f":0.722},{"w":7607,"f":0.411},{"w":7612,"f":0.382},{"w":7617,"f":0.434},{"w":7622,"f":0.469},{"w":7625,"f":0.757},{"w":7630,"f":0.446},{"w":7635,"f":0.40},{"w":7640,"f":0.377},{"w":7647,"f":0.342},
      {"w":7651,"f":0.33},{"w":7654,"f":0.405},{"w":7660,"f":0.33},{"w":7663,"f":0.33},{"w":7667,"f":0.273},{"w":7673,"f":0.279},{"w":7677,"f":0.273},{"w":7682,"f":0.296},{"w":7687,"f":0.308},{"w":7692,"f":0.29},
      {"w":7697,"f":0.325},{"w":7701,"f":0.25},{"w":7707,"f":0.388},{"w":7710,"f":1.0},{"w":7714,"f":0.388},{"w":7718,"f":0.48},{"w":7723,"f":0.319},{"w":7727,"f":0.285},{"w":7733,"f":0.308},{"w":7738,"f":0.423},
      {"w":7743,"f":0.653},{"w":7746,"f":1.0},{"w":7750,"f":0.308},{"w":7754,"f":0.526},{"w":7758,"f":0.457},{"w":7762,"f":0.285},{"w":7767,"f":0.388},{"w":7771,"f":0.751},{"w":7775,"f":0.319},{"w":7777,"f":0.469},
      {"w":7782,"f":0.296},{"w":7786,"f":0.33},{"w":7790,"f":1.0},{"w":7795,"f":0.308},{"w":7799,"f":0.538},{"w":7803,"f":0.33},{"w":7807,"f":0.308},{"w":7812,"f":0.503},{"w":7818,"f":1.0},{"w":7823,"f":0.319},
      {"w":7827,"f":0.308},{"w":7833,"f":0.279},{"w":7837,"f":0.52},{"w":7842,"f":0.308},{"w":7847,"f":1.0},{"w":7852,"f":1.0},{"w":7855,"f":0.561},{"w":7860,"f":0.417},{"w":7865,"f":0.653},{"w":7868,"f":0.67},
      {"w":7870,"f":0.354},{"w":7873,"f":0.561},{"w":7878,"f":0.377},{"w":7882,"f":0.33},{"w":7886,"f":0.665},{"w":7890,"f":0.354},{"w":7893,"f":0.308},{"w":7899,"f":0.29},{"w":7904,"f":0.33},{"w":7908,"f":0.584},
      {"w":7911,"f":1.0},{"w":7914,"f":0.573},{"w":7918,"f":1.0},{"w":7921,"f":0.33},{"w":7925,"f":0.308},{"w":7929,"f":0.584},{"w":7933,"f":0.308},{"w":7937,"f":0.302},{"w":7942,"f":0.308},{"w":7946,"f":0.532},
      {"w":7950,"f":0.308},{"w":7953,"f":0.279},{"w":7957,"f":0.33},{"w":7961,"f":1.0},{"w":7965,"f":0.33},{"w":7969,"f":0.302},{"w":7974,"f":0.63},{"w":7978,"f":0.302},{"w":7982,"f":0.308},{"w":7986,"f":0.70},
      {"w":7990,"f":1.0},{"w":7994,"f":0.308},{"w":7998,"f":0.29},{"w":8002,"f":0.302},{"w":8007,"f":0.354},{"w":8010,"f":0.538},{"w":8015,"f":0.308},{"w":8019,"f":0.33},{"w":8023,"f":1.0},{"w":8027,"f":0.302},
      {"w":8032,"f":0.285},{"w":8037,"f":0.285},{"w":8041,"f":0.29},{"w":8045,"f":0.33},{"w":8048,"f":0.463},{"w":8053,"f":0.308},{"w":8057,"f":0.285},{"w":8059,"f":0.596},{"w":8063,"f":0.29},{"w":8067,"f":0.279},
      {"w":8072,"f":0.308},{"w":8077,"f":0.29},{"w":8081,"f":0.313},{"w":8085,"f":0.296},{"w":8090,"f":0.371},{"w":8094,"f":0.308},{"w":8098,"f":0.446},{"w":8102,"f":0.308},{"w":8107,"f":0.302},{"w":8111,"f":0.33},
      {"w":8117,"f":0.29},{"w":8122,"f":0.302},{"w":8126,"f":0.29},{"w":8131,"f":0.308},{"w":8135,"f":0.348},{"w":8139,"f":0.308},{"w":8143,"f":0.359},{"w":8147,"f":0.29},{"w":8152,"f":0.285},{"w":8157,"f":0.287},
      {"w":8162,"f":0.285},{"w":8167,"f":0.29},{"w":8173,"f":0.282},{"w":8178,"f":0.296},{"w":8183,"f":0.308},{"w":8188,"f":0.285},{"w":8193,"f":0.31},{"w":8198,"f":0.287},{"w":8203,"f":0.282},{"w":8209,"f":0.29},
      {"w":8216,"f":0.285},{"w":8222,"f":0.308},{"w":8229,"f":0.308},{"w":8235,"f":0.342},{"w":8239,"f":0.33},{"w":8245,"f":0.296},{"w":8250,"f":0.285},{"w":8255,"f":0.29},{"w":8261,"f":0.285},{"w":8267,"f":0.29},
      {"w":8271,"f":0.411},{"w":8275,"f":0.676},{"w":8278,"f":0.768},{"w":8281,"f":0.642},{"w":8285,"f":1.0},{"w":8289,"f":0.78},{"w":8293,"f":1.0},{"w":8297,"f":0.78},{"w":8301,"f":0.354},{"w":8305,"f":0.33},
      {"w":8307,"f":0.538},{"w":8311,"f":0.319},{"w":8315,"f":0.325},{"w":8320,"f":0.308},{"w":8327,"f":0.302},{"w":8333,"f":0.354},{"w":8337,"f":1.0},{"w":8341,"f":0.308},{"w":8345,"f":0.573},{"w":8349,"f":1.0},
      {"w":8353,"f":0.308},{"w":8357,"f":0.33},{"w":8361,"f":0.55},{"w":8365,"f":0.308},{"w":8369,"f":0.308},{"w":8372,"f":0.70},{"w":8376,"f":1.0},{"w":8380,"f":0.354},{"w":8384,"f":0.308},{"w":8388,"f":0.676},
      {"w":8392,"f":1.0},{"w":8396,"f":0.308},{"w":8400,"f":0.584},{"w":8404,"f":0.308},{"w":8408,"f":1.0},{"w":8412,"f":0.33},{"w":8415,"f":0.48},{"w":8419,"f":1.0},{"w":8423,"f":0.33},{"w":8427,"f":1.0},
      {"w":8431,"f":0.302},{"w":8436,"f":0.354},{"w":8441,"f":0.503},{"w":8444,"f":0.705},{"w":8448,"f":0.40},{"w":8452,"f":0.308},{"w":8456,"f":0.308},{"w":8460,"f":0.78},{"w":8464,"f":1.0},{"w":8468,"f":0.308},
      {"w":8472,"f":0.354},{"w":8476,"f":0.285},{"w":8480,"f":0.302},{"w":8483,"f":0.33},{"w":8487,"f":0.584},{"w":8491,"f":0.308},{"w":8495,"f":0.296},{"w":8499,"f":1.0},{"w":8503,"f":0.308},{"w":8507,"f":0.285},
      {"w":8512,"f":0.296},{"w":8516,"f":0.308},{"w":8520,"f":0.279},{"w":8524,"f":0.33},{"w":8529,"f":0.308},{"w":8533,"f":0.446},{"w":8537,"f":0.308},{"w":8541,"f":0.573},{"w":8545,"f":0.308},{"w":8549,"f":0.285},
      {"w":8554,"f":0.279},{"w":8559,"f":0.285},{"w":8564,"f":0.302},{"w":8570,"f":0.308},{"w":8575,"f":0.285},{"w":8580,"f":0.377},{"w":8584,"f":0.388},{"w":8588,"f":0.308},{"w":8592,"f":0.423},{"w":8596,"f":0.33},
      {"w":8600,"f":0.308},{"w":8605,"f":0.308},{"w":8610,"f":0.40},{"w":8614,"f":0.55},{"w":8618,"f":0.676},{"w":8622,"f":0.734},{"w":8626,"f":0.74},{"w":8630,"f":0.70},{"w":8633,"f":0.584},{"w":8637,"f":0.469},
      {"w":8640,"f":0.411},{"w":8644,"f":0.584},{"w":8648,"f":0.745},{"w":8653,"f":0.80},{"w":8660,"f":0.77},{"w":8663,"f":0.676},{"w":8667,"f":0.561},{"w":8673,"f":0.492},{"w":8678,"f":0.423},{"w":8682,"f":0.388},
      {"w":8687,"f":0.354},{"w":8691,"f":0.365},{"w":8694,"f":0.342},{"w":8699,"f":0.359},{"w":8703,"f":0.33},{"w":8707,"f":0.308},{"w":8712,"f":0.302},{"w":8717,"f":0.296},{"w":8721,"f":0.308},{"w":8725,"f":0.296},
      {"w":8729,"f":0.308},{"w":8734,"f":0.319},{"w":8738,"f":0.31},{"w":8744,"f":0.313},{"w":8750,"f":0.319},{"w":8752,"f":0.584},{"w":8754,"f":1.0},{"w":8761,"f":1.0},{"w":8765,"f":0.492},{"w":8769,"f":1.0},
      {"w":8774,"f":1.0},{"w":8778,"f":0.308},{"w":8784,"f":0.377},{"w":8786,"f":0.734},{"w":8790,"f":0.308},{"w":8794,"f":0.308},{"w":8799,"f":0.354},{"w":8803,"f":0.377},{"w":8807,"f":0.308},{"w":8812,"f":0.308},
      {"w":8816,"f":0.354},{"w":8819,"f":1.0},{"w":8823,"f":1.0},{"w":8827,"f":0.665},{"w":8831,"f":1.0},{"w":8836,"f":0.342},{"w":8841,"f":0.33},{"w":8845,"f":0.665},{"w":8849,"f":0.33},{"w":8854,"f":0.319},
      {"w":8858,"f":0.469},{"w":8862,"f":1.0},{"w":8866,"f":0.319},{"w":8870,"f":0.342},{"w":8874,"f":0.434},{"w":8877,"f":1.0},{"w":8881,"f":0.342},{"w":8885,"f":0.319},{"w":8889,"f":1.0},{"w":8893,"f":0.354},
      {"w":8897,"f":1.0},{"w":8901,"f":0.354},{"w":8905,"f":0.342},{"w":8909,"f":1.0},{"w":8913,"f":0.354},{"w":8917,"f":1.0},{"w":8921,"f":0.40},{"w":8924,"f":0.354},{"w":8928,"f":0.469},{"w":8932,"f":1.0},
      {"w":8936,"f":0.354},{"w":8940,"f":0.354},{"w":8944,"f":0.342},{"w":8948,"f":1.0},{"w":8952,"f":0.377},{"w":8956,"f":1.0},{"w":8960,"f":0.354},{"w":8964,"f":0.40},{"w":8968,"f":0.354},{"w":8971,"f":0.377},
      {"w":8975,"f":0.40},{"w":8979,"f":0.469},{"w":8983,"f":1.0},{"w":8987,"f":0.377},{"w":8991,"f":0.40},{"w":8995,"f":1.0},{"w":9000,"f":0.77},{"w":9003,"f":0.354},{"w":9008,"f":0.348},{"w":9013,"f":0.371},
      {"w":9018,"f":0.365},{"w":9022,"f":0.354},{"w":9026,"f":0.365},{"w":9030,"f":0.446},{"w":9033,"f":0.619},{"w":9037,"f":0.377},{"w":9041,"f":0.371},{"w":9045,"f":1.0},{"w":9048,"f":0.365},{"w":9052,"f":0.342},
      {"w":9056,"f":0.365},{"w":9062,"f":0.382},{"w":9065,"f":0.354},{"w":9071,"f":0.342},{"w":9076,"f":0.354},{"w":9081,"f":0.377},{"w":9085,"f":0.515},{"w":9089,"f":0.377},{"w":9093,"f":0.388},{"w":9097,"f":0.596},
      {"w":9101,"f":0.354},{"w":9105,"f":0.342},{"w":9110,"f":0.348},{"w":9114,"f":0.342},{"w":9118,"f":0.371},{"w":9122,"f":0.342},{"w":9127,"f":0.342},{"w":9132,"f":0.348},{"w":9137,"f":0.354},{"w":9142,"f":0.377},
      {"w":9146,"f":0.486},{"w":9150,"f":0.411},{"w":9155,"f":0.526},{"w":9159,"f":0.377},{"w":9165,"f":0.359},{"w":9171,"f":0.359},{"w":9178,"f":0.354},{"w":9184,"f":0.354},{"w":9189,"f":0.348},{"w":9195,"f":0.354},
      {"w":9201,"f":0.359},{"w":9206,"f":0.365},{"w":9212,"f":0.469},{"w":9216,"f":0.411},{"w":9218,"f":0.503},{"w":9222,"f":0.411},{"w":9226,"f":0.377},{"w":9231,"f":0.365},{"w":9236,"f":0.371},{"w":9240,"f":0.388},
      {"w":9244,"f":0.423},{"w":9248,"f":0.40},{"w":9252,"f":0.382},{"w":9256,"f":0.526},{"w":9259,"f":0.613},{"w":9263,"f":0.526},{"w":9266,"f":0.371},{"w":9270,"f":0.371},{"w":9274,"f":0.388},{"w":9278,"f":0.423},
      {"w":9281,"f":0.486},{"w":9283,"f":0.469},{"w":9286,"f":0.52},{"w":9290,"f":0.503},{"w":9294,"f":0.44},{"w":9298,"f":0.457}
    ]
  },
  "encoding": {
    "x": {
      "field": "w",
      "type": "quantitative",
      "scale": {"domain": [4748, 9299], "nice": false, "zero": false},
      "axis": {
        "values": [5000, 6000, 7000, 8000, 9000],
        "format": "d",
        "labelFontSize": 27,
        "labelPadding": 13,
        "labelFlush": false,
        "labelOverlap": false,
        "title": "Wavelength",
        "titleFontSize": 33,
        "titleY": 87,
        "titleBaseline": "alphabetic"
      }
    },
    "y": {
      "field": "f",
      "type": "quantitative",
      "scale": {"domain": [-1.271, 0.782], "nice": false, "zero": false},
      "axis": {
        "values": [0.75, 0.5, 0.25, 0, -0.25, -0.5, -0.75, -1, -1.25],
        "format": ".2f",
        "labelFontSize": 33.3,
        "labelPadding": 15,
        "labelOverlap": false,
        "labelFlush": false,
        "title": "10⁻¹⁸ erg s⁻¹ cm⁻² Å⁻¹",
        "titleFontSize": 48,
        "titleAngle": -90,
        "titleX": -173,
        "titleY": 346,
        "titleAlign": "center",
        "titleBaseline": "alphabetic"
      }
    }
  },
  "layer": [
    {"data": {"name": "zero"}, "mark": {"type": "line", "color": "#0000ff", "strokeWidth": 6.5, "clip": true}},
    {"data": {"name": "noise"}, "mark": {"type": "line", "color": "#008000", "strokeWidth": 2, "clip": true}},
    {"data": {"name": "spec"}, "mark": {"type": "line", "color": "#000000", "strokeWidth": 4.2, "clip": true}}
  ],
  "config": {
    "font": "DejaVu Sans",
    "view": {"stroke": "#000000", "strokeWidth": 3.3},
    "axis": {
      "grid": false,
      "domain": false,
      "ticks": true,
      "tickColor": "#000000",
      "tickWidth": 3.3,
      "tickSize": 14.6,
      "labelColor": "#000000",
      "titleColor": "#000000",
      "labelFont": "DejaVu Sans",
      "titleFont": "DejaVu Sans",
      "titleFontWeight": "normal"
    }
  }
}
